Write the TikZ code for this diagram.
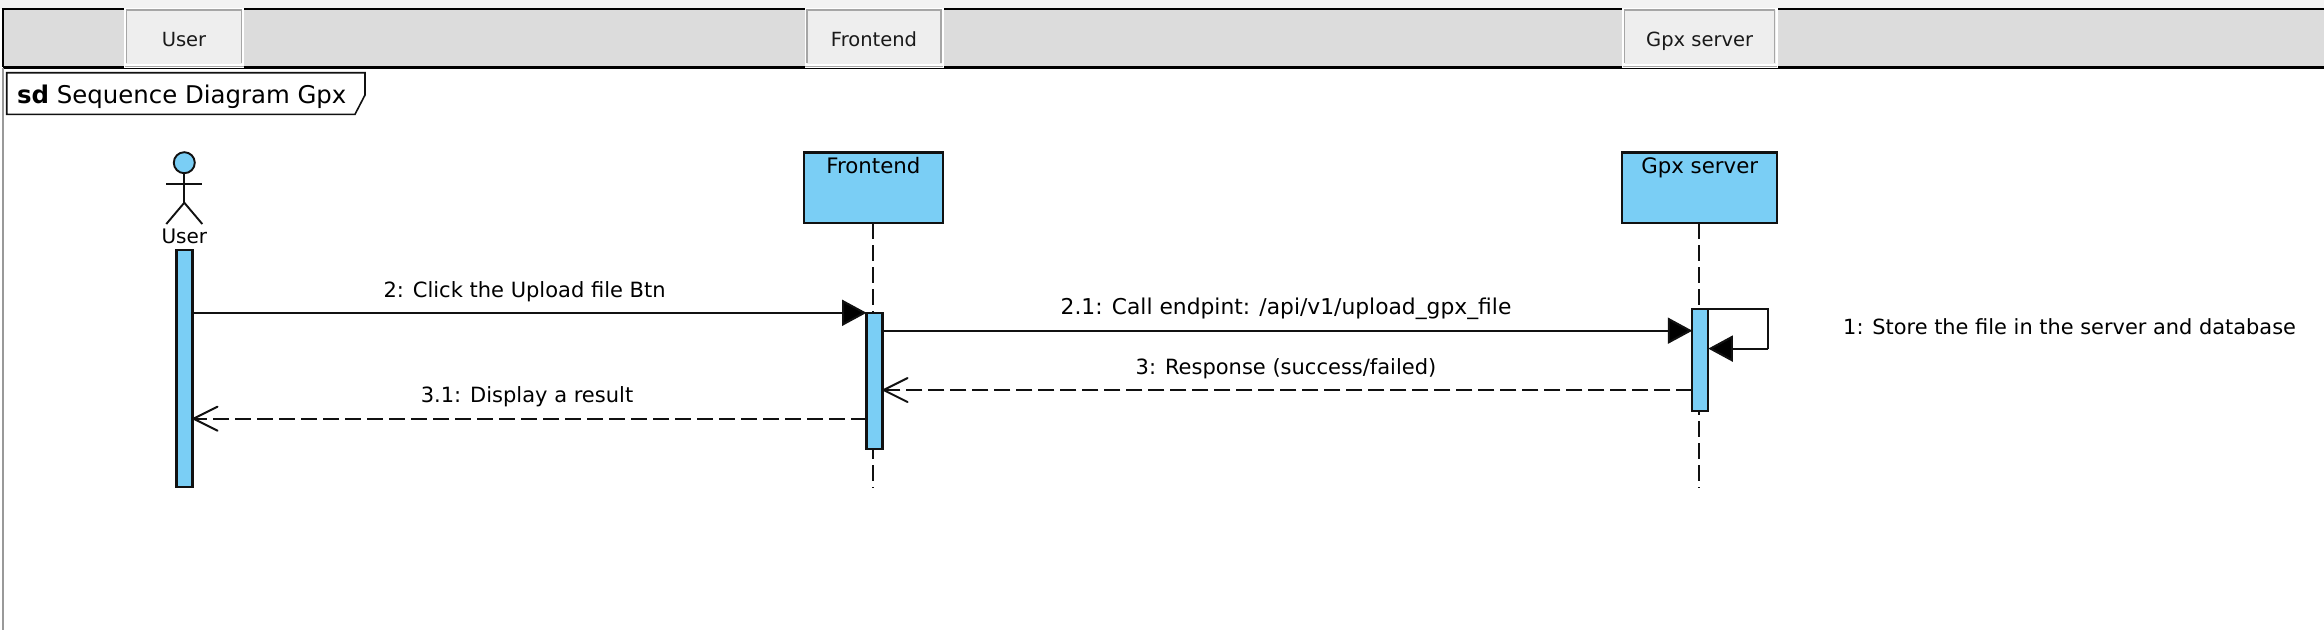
\documentclass[tikz,border=0pt]{standalone}
\usepackage{fontspec}
\setmainfont{DejaVu Sans}
\usetikzlibrary{arrows.meta,calc}
\definecolor{lblue}{HTML}{7ACEF5}
\definecolor{hdr}{HTML}{DCDCDC}
\definecolor{tabf}{HTML}{EEEEEE}
\definecolor{ink}{HTML}{111111}
\newcommand{\fs}[1]{\fontsize{#1}{#1}\selectfont}
\tikzset{
  x=1pt,y=-1pt,
  lab/.style={anchor=base,inner sep=0,font=\fs{21},text=black},
  tabbox/.style={anchor=north,draw=tabf,fill=tabf,inner sep=0,outer sep=0,line width=0.1pt,
     text height=36pt,text depth=17pt,font=\fs{19.5},text=black!90},
  head/.style={anchor=north,draw=ink,fill=lblue,line width=2.2pt,inner sep=0,outer sep=0,
     text height=21pt,text depth=49.5pt,font=\fs{21.3},text=black},
  act/.style={anchor=north,draw=ink,fill=lblue,line width=2.2pt,inner sep=0,outer sep=0,minimum width=16pt},
  life/.style={draw=ink,line width=1.9pt,dash pattern=on 15.5pt off 6.5pt},
  msg/.style={draw=ink,line width=2pt},
  ret/.style={draw=ink,line width=2pt,dash pattern=on 16pt off 6pt},
  solidtip/.style={-{Triangle[length=24.5pt,width=26pt,fill=black]}},
  opentip/.style={-{Straight Barb[length=24pt,width=24pt,line width=2pt,round]}},
}
\begin{document}
\begin{tikzpicture}
\useasboundingbox (0,0) rectangle (2324,630);
\fill[white] (0,0) rectangle (2324,630);
\fill[tabf!70!white] (0,0) rectangle (2324,8.5);
\fill[hdr] (3,9) rectangle (2324,67);
\draw[black,line width=2pt] (2324,9) -- (3,9) -- (3,67);
\draw[black,line width=3pt] (3,67.3) -- (2324,67.3);
\draw[black!40,line width=1.8pt] (3,68) -- (3,630);
% tabs
\fill[white] (124,8) rectangle (243.7,68);
\fill[white] (804.5,8) rectangle (943.5,68);
\fill[white] (1622,8) rectangle (1777.5,68);
\node[tabbox,minimum width=115pt] (tabuser) at (184,10) {User};
\node[tabbox,minimum width=134pt] (tabfe) at (874,10) {Frontend};
\node[tabbox,minimum width=150pt] (tabgpx) at (1699.7,10) {Gpx server};
\foreach \t in {tabuser,tabfe,tabgpx}{
  \draw[black!35,line width=1.5pt] (\t.south west) -- (\t.north west) -- (\t.north east) -- (\t.south east);
  \draw[black!35,line width=1.4pt] ($(\t.south west)+(-2,3.4)$) -- ($(\t.south east)+(2,3.4)$);
}
% frame label
\draw[ink,line width=1.6pt,fill=white] (6.7,72.7) -- (365,72.7) -- (365,95) -- (355,114.3) -- (6.7,114.3) -- cycle;
\node[anchor=base west,inner sep=0,font=\fs{24.4}] (frame) at (17,103) {\textbf{sd} Sequence Diagram Gpx};
% actor
\coordinate (uhip) at (184.3,202.7);
\coordinate (ulegl) at (166.3,224);
\coordinate (ulegr) at (202.3,224);
\coordinate (uarml) at (166.3,184);
\coordinate (uarmr) at (202.3,184);
\node[circle,draw=ink,fill=lblue,line width=1.9pt,minimum size=21pt,inner sep=0,outer sep=0] (uhead) at (184.3,162.7) {};
\draw[ink,line width=1.9pt] (uhead.south) -- (uhip);
\draw[ink,line width=1.9pt] (uarml) -- (uarmr);
\draw[ink,line width=1.9pt] (ulegl) -- (uhip) -- (ulegr);
\node[lab,font=\fs{20}] (ulabel) at (184.3,243) {User};
% heads
\node[head,minimum width=138.7pt] (fehead) at (873.4,152.5) {Frontend};
\node[head,minimum width=155pt] (gpxhead) at (1699.7,152.5) {Gpx server};
% lifelines: one dashed path each, activations on top
\coordinate (feend) at (872.6,487.5);
\coordinate (gpxend) at (1698.6,487.5);
\draw[life] (feend |- fehead.south) -- (feend);
\draw[life] (gpxend |- gpxhead.south) -- (gpxend);
% activations
\node[act,minimum height=236.7pt] (uact) at (184.5,250.3) {};
\node[act,minimum height=136pt] (feact) at (874.5,312.6) {};
\node[act,minimum height=102pt] (gpxact) at (1700.3,308.6) {};
% message rows
\coordinate (mclick) at (0,312.8);
\coordinate (mcall) at (0,330.7);
\coordinate (mresp) at (0,390);
\coordinate (mdisp) at (0,418.7);
\coordinate (selfturn) at (1768.3,348.6);
\draw[msg,solidtip] (uact.east |- mclick) -- (feact.west |- mclick);
\draw[msg,solidtip] (feact.east |- mcall) -- (gpxact.west |- mcall);
\draw[ret,opentip] (gpxact.west |- mresp) -- (feact.east |- mresp);
\draw[ret,opentip] (feact.west |- mdisp) -- (uact.east |- mdisp);
\draw[msg] (gpxact.north east) -| (selfturn);
\draw[msg,solidtip] (selfturn) -- (gpxact.east |- selfturn);
% labels
\node[lab] (tclick) at (524.6,297) {2: Click the Upload file Btn};
\node[lab,font=\fs{21.8}] (tcall) at (1286,314.5) {2.1: Call endpint: /api/v1/upload\_gpx\_file};
\node[lab] (tresp) at (1286,374) {3: Response (success/failed)};
\node[lab] (tdisp) at (527,402.5) {3.1: Display a result};
\node[lab,anchor=base west,font=\fs{20.9}] (tself) at (1843,334) {1: Store the file in the server and database};
\end{tikzpicture}
\end{document}
